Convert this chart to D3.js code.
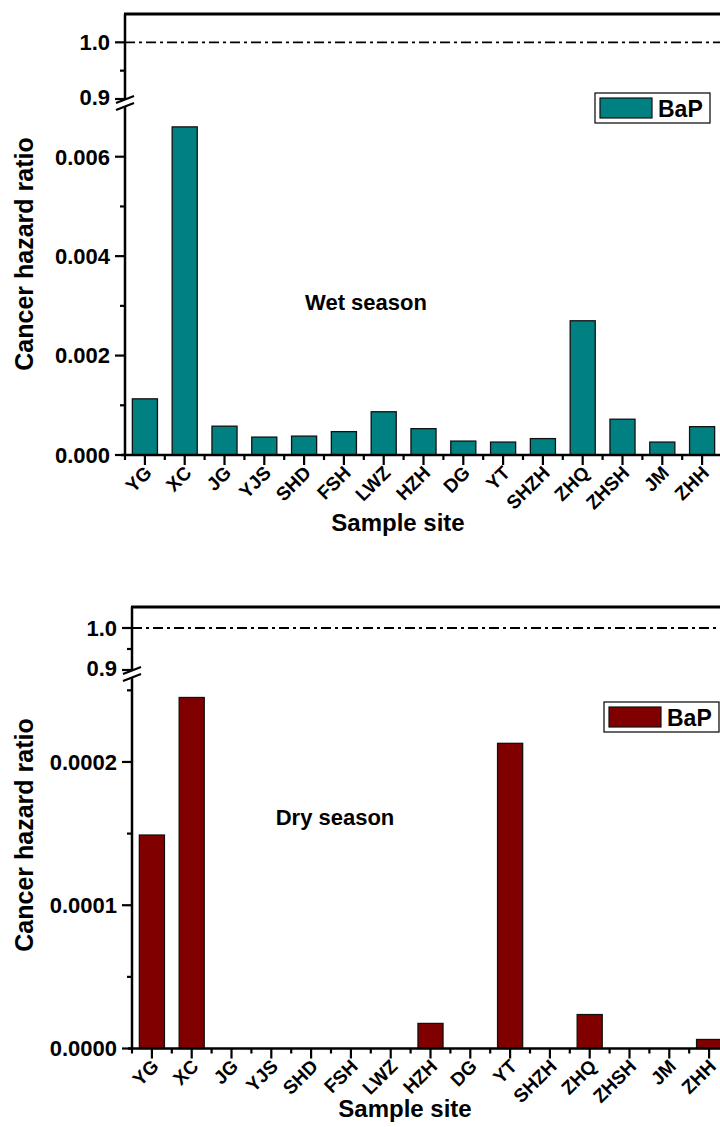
<!DOCTYPE html>
<html>
<head>
<meta charset="utf-8">
<script src="https://cdn.jsdelivr.net/npm/d3@7"></script>
<style>
  body { margin: 0; background: #fff; }
  text { font-family: "Liberation Sans", Arial, sans-serif; font-weight: bold; }
</style>
</head>
<body>
<div id="chart"></div>
<script>
const width = 720,
    height = 1127;

// sample sites
const sites = ['YG', 'XC', 'JG', 'YJS', 'SHD', 'FSH', 'LWZ', 'HZH', 'DG', 'YT', 'SHZH', 'ZHQ', 'ZHSH', 'JM', 'ZHH'];

// BaP cancer hazard ratio - wet season
const wetBaP = [0.00113, 0.0066, 0.00058, 0.00036, 0.00038, 0.00047, 0.00087, 0.00053, 0.00028, 0.00026, 0.00033, 0.0027, 0.00072, 0.00026, 0.00057];
// BaP cancer hazard ratio - dry season
const dryBaP = [0.000149, 0.000245, 0, 0, 0, 0, 0, 0.0000175, 0, 0.000213, 0, 0.0000237, 0, 0, 0.0000063];

// tick values
const wetTicks = [0, 0.002, 0.004, 0.006];
const wetMinor = [0.001, 0.003, 0.005];
const dryTicks = [0, 0.0001, 0.0002];
const dryMinor = [0.00005, 0.00015, 0.00025];
const upperTicks = [0.9, 1.0];
const upperMinor = [0.95];

const svg = d3.select('#chart')
    .append('svg')
    .attr('width', width)
    .attr('height', height);

// 兩個面板的設定
const panels = [
    {
        data: wetBaP, color: '#008080', note: 'Wet season', noteX: 366, noteY: 310,
        left: 125, top: 14, zeroY: 455, breakY: 102,
        lowDomain: [0, 0.007], lowTop: 107,
        upDomain: [0.9, 1.05], upBottom: 99,
        ticks: wetTicks, minor: wetMinor, fmt: d3.format('.3f'),
        titleY: 254, xTitleY: 531, legendX: 595, legendY: 93
    },
    {
        data: dryBaP, color: '#800000', note: 'Dry season', noteX: 335, noteY: 825,
        left: 132, top: 607, zeroY: 1048.5, breakY: 673,
        lowDomain: [0, 0.00026], lowTop: 676,
        upDomain: [0.9, 1.05], upBottom: 670,
        ticks: dryTicks, minor: dryMinor, fmt: d3.format('.4f'),
        titleY: 835, xTitleY: 1117, legendX: 604, legendY: 702
    }
];

panels.forEach(function(p) {
    const g = svg.append('g');

    // x軸
    const x = d3.scaleBand()
        .domain(sites)
        .range([p.left, p.left + 15 * 39.8])
        .paddingInner(0.37)
        .paddingOuter(0.185);
    const step = x.step();

    // y軸 (斷軸: 下段與上段)
    const yLow = d3.scaleLinear().domain(p.lowDomain).range([p.zeroY, p.lowTop]);
    const yUp = d3.scaleLinear().domain(p.upDomain).range([p.upBottom, p.top]);

    // bars
    g.selectAll('rect.bar')
        .data(p.data)
        .enter()
        .append('rect')
        .attr('class', 'bar')
        .attr('x', function(d, i) { return x(sites[i]); })
        .attr('y', function(d) { return yLow(d); })
        .attr('width', x.bandwidth())
        .attr('height', function(d) { return p.zeroY - yLow(d); })
        .attr('fill', p.color)
        .attr('stroke', '#111')
        .attr('stroke-width', d => d > 0 ? 1.3 : 0);

    // 1.0 的虛線
    g.append('line')
        .attr('x1', p.left).attr('x2', width)
        .attr('y1', yUp(1.0)).attr('y2', yUp(1.0))
        .attr('stroke', '#000')
        .attr('stroke-width', 1.8)
        .attr('stroke-dasharray', '10,4,3,4');

    // 上框線
    g.append('line')
        .attr('x1', p.left - 1).attr('x2', width)
        .attr('y1', p.top).attr('y2', p.top)
        .attr('stroke', '#000').attr('stroke-width', 2.8);

    // 左軸線
    g.append('line')
        .attr('x1', p.left).attr('x2', p.left)
        .attr('y1', p.top).attr('y2', p.zeroY)
        .attr('stroke', '#000').attr('stroke-width', 2.5);

    // x軸線
    g.append('line')
        .attr('x1', p.left - 4).attr('x2', width)
        .attr('y1', p.zeroY).attr('y2', p.zeroY)
        .attr('stroke', '#000').attr('stroke-width', 2.5);

    // y ticks
    function yTicks(scale, major, minor) {
        major.forEach(function(v) {
            g.append('line')
                .attr('x1', p.left - 10).attr('x2', p.left)
                .attr('y1', scale(v)).attr('y2', scale(v))
                .attr('stroke', '#000').attr('stroke-width', 2.2);
        });
        minor.forEach(function(v) {
            g.append('line')
                .attr('x1', p.left - 5).attr('x2', p.left)
                .attr('y1', scale(v)).attr('y2', scale(v))
                .attr('stroke', '#000').attr('stroke-width', 2.2);
        });
    }
    yTicks(yLow, p.ticks, p.minor);
    yTicks(yUp, upperTicks, upperMinor);

    g.selectAll('text.ylow')
        .data(p.ticks)
        .enter()
        .append('text')
        .attr('x', p.left - 15)
        .attr('y', d => yLow(d))
        .attr('dy', '0.36em')
        .attr('text-anchor', 'end')
        .attr('font-size', 22)
        .text(d => p.fmt(d));

    g.selectAll('text.yup')
        .data(upperTicks)
        .enter()
        .append('text')
        .attr('x', p.left - 15)
        .attr('y', d => yUp(d) - (d === 0.9 ? 2 : 0))
        .attr('dy', '0.36em')
        .attr('text-anchor', 'end')
        .attr('font-size', 22)
        .text(d => d3.format('.1f')(d));

    // 斷軸符號
    const b = p.breakY;
    g.append('polygon')
        .attr('points', [[p.left - 8, b + 1], [p.left + 9, b - 6], [p.left + 9, b + 1], [p.left - 8, b + 8]].join(' '))
        .attr('fill', '#fff');
    [0, 7].forEach(function(o) {
        g.append('line')
            .attr('x1', p.left - 9).attr('y1', b + 1 + o)
            .attr('x2', p.left + 9).attr('y2', b - 6 + o)
            .attr('stroke', '#000').attr('stroke-width', 2.2);
    });

    // x ticks
    sites.forEach(function(s, i) {
        const cx = x(s) + x.bandwidth() / 2;
        g.append('line')
            .attr('x1', cx).attr('x2', cx)
            .attr('y1', p.zeroY).attr('y2', p.zeroY + 10)
            .attr('stroke', '#000').attr('stroke-width', 2.2);
        const ex = cx - step / 2;
        g.append('line')
            .attr('x1', ex).attr('x2', ex)
            .attr('y1', p.zeroY).attr('y2', p.zeroY + 5)
            .attr('stroke', '#000').attr('stroke-width', 2.2);
        g.append('text')
            .attr('transform', 'translate(' + (cx + 8) + ',' + (p.zeroY + 19) + ') rotate(-45)')
            .attr('text-anchor', 'end')
            .attr('font-size', 19)
            .text(s);
    });

    // 軸標題
    g.append('text')
        .attr('x', p.left + 273)
        .attr('y', p.xTitleY)
        .attr('text-anchor', 'middle')
        .attr('font-size', 24)
        .text('Sample site');

    g.append('text')
        .attr('transform', 'translate(33,' + p.titleY + ') rotate(-90)')
        .attr('text-anchor', 'middle')
        .attr('font-size', 25)
        .text('Cancer hazard ratio');

    // 季節註記
    g.append('text')
        .attr('x', p.noteX)
        .attr('y', p.noteY)
        .attr('text-anchor', 'middle')
        .attr('font-size', 22)
        .text(p.note);

    // 圖例
    const lg = g.append('g').attr('transform', 'translate(' + p.legendX + ',' + p.legendY + ')');
    lg.append('rect')
        .attr('width', 115).attr('height', 30)
        .attr('fill', '#fff').attr('stroke', '#000').attr('stroke-width', 1.2);
    lg.append('rect')
        .attr('x', 5).attr('y', 5).attr('width', 52).attr('height', 20)
        .attr('fill', p.color).attr('stroke', '#111').attr('stroke-width', 1.2);
    lg.append('text')
        .attr('x', 63).attr('y', 24)
        .attr('font-size', 23)
        .text('BaP');
});
</script>
</body>
</html>
